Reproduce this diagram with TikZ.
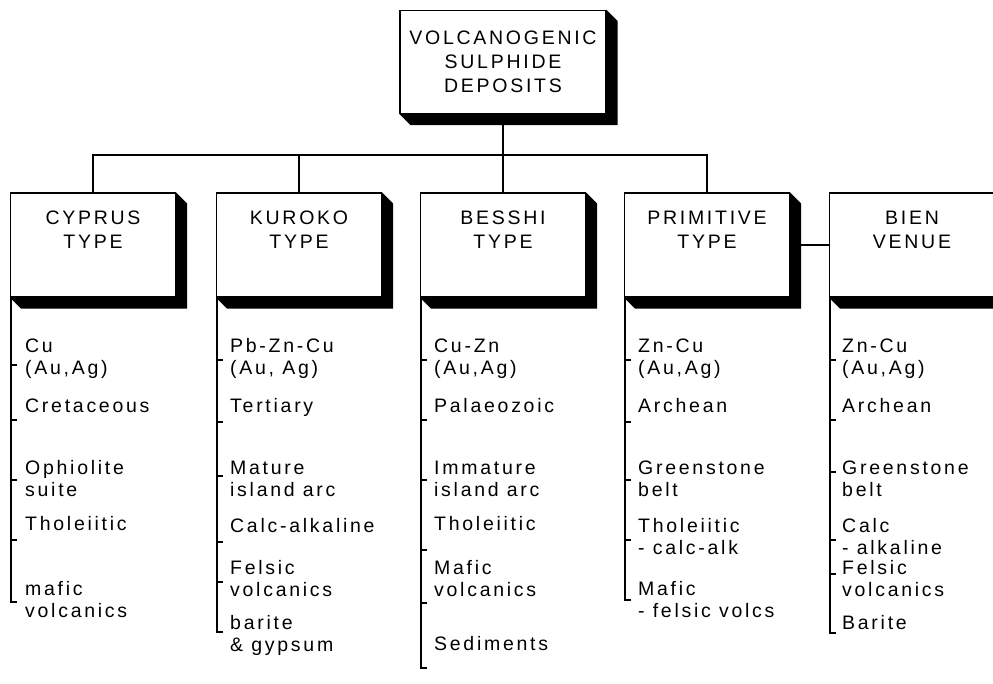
\documentclass[tikz,border=0pt]{standalone}
\usepackage{fontspec}
\newfontfamily\plainsans[LetterSpace=14]{Liberation Sans}

\tikzset{
  typebox/.style={draw, fill=white, line width=1.1pt, minimum width=165pt,
    minimum height=104pt, inner sep=0pt},
  boxtext/.style={anchor=north, align=center, inner sep=0pt, yshift=-18pt,
    font=\plainsans\fontsize{19.5}{24}\selectfont},
  entry/.style={anchor=base west, align=left, inner sep=0pt,
    font=\plainsans\fontsize{19.5}{22}\selectfont},
  link/.style={line width=1.1pt},
  bracket/.style={line width=1.1pt},
}

\begin{document}
\begin{tikzpicture}[x=1pt, y=-1pt]
  \useasboundingbox (0,0) rectangle (993,683);
  \clip (0,0) rectangle (993,683);

  % boxes
  \node[typebox, minimum width=206pt, minimum height=103pt, align=center,
    font=\plainsans\fontsize{19.5}{24}\selectfont] (top) at (503,62)
    {VOLCANOGENIC\\SULPHIDE\\DEPOSITS};
  \node[typebox, label={[boxtext]north:CYPRUS\\TYPE}] (cyprus) at (93,245) {};
  \node[typebox, label={[boxtext]north:KUROKO\\TYPE}] (kuroko) at (299,245) {};
  \node[typebox, label={[boxtext]north:BESSHI\\TYPE}] (besshi) at (503,245) {};
  \node[typebox, label={[boxtext]north:PRIMITIVE\\TYPE}] (primitive) at (707,245) {};
  \node[typebox, label={[boxtext]north:BIEN\\VENUE}] (bien) at (912,245) {};

  % connectors
  \coordinate (bus) at (503,155);
  \draw[link] (top.south) -- (besshi.north);
  \draw[link] (cyprus.north) |- (bus) -| (primitive.north);
  \draw[link] (kuroko.north) |- (bus);
  \draw[link] (primitive.east) -- (bien.west);

  % solid shadows
  \foreach \b in {top,cyprus,kuroko,besshi,primitive,bien}
    \fill (\b.north east) -- ++(11,11) |- ([xshift=11pt,yshift=-11pt]\b.south west)
      -- (\b.south west) -- (\b.south east) -- cycle;

  % brackets down the left side of each column
  \foreach \x/\ticks/\stop in {11/{365,420,480,540}/602,
      217/{360,422,476,542,582}/632,
      421/{360,420,480,550,603}/668,
      625/{360,422,480,540}/600,
      830/{360,420,472,540,574}/633} {
    \draw[bracket] (\x,297) |- (\x+6,\stop);
    \foreach \t in \ticks
      \draw[bracket] (\x,\t) -- (\x+6,\t);
  }

  % cyprus
  \node[entry] (cy1) at (25,374) {Cu\\(Au,Ag)};
  \node[entry] (cy2) at (25,412) {Cretaceous};
  \node[entry] (cy3) at (25,496) {Ophiolite\\suite};
  \node[entry] (cy4) at (25,530) {Tholeiitic};
  \node[entry] (cy5) at (25,617) {mafic\\volcanics};

  % kuroko
  \node[entry] (ku1) at (230,374) {Pb-Zn-Cu\\(Au, Ag)};
  \node[entry] (ku2) at (230,412) {Tertiary};
  \node[entry] (ku3) at (230,496) {Mature\\island arc};
  \node[entry] (ku4) at (230,532) {Calc-alkaline};
  \node[entry] (ku5) at (230,596) {Felsic\\volcanics};
  \node[entry] (ku6) at (230,651) {barite\\\& gypsum};

  % besshi
  \node[entry] (be1) at (434,374) {Cu-Zn\\(Au,Ag)};
  \node[entry] (be2) at (434,412) {Palaeozoic};
  \node[entry] (be3) at (434,496) {Immature\\island arc};
  \node[entry] (be4) at (434,530) {Tholeiitic};
  \node[entry] (be5) at (434,596) {Mafic\\volcanics};
  \node[entry] (be6) at (434,650) {Sediments};

  % primitive
  \node[entry] (pr1) at (638,374) {Zn-Cu\\(Au,Ag)};
  \node[entry] (pr2) at (638,412) {Archean};
  \node[entry] (pr3) at (638,496) {Greenstone\\belt};
  \node[entry] (pr4) at (638,554) {Tholeiitic\\- calc-alk};
  \node[entry] (pr5) at (638,617) {Mafic\\- felsic volcs};

  % bien venue
  \node[entry] (bv1) at (842,374) {Zn-Cu\\(Au,Ag)};
  \node[entry] (bv2) at (842,412) {Archean};
  \node[entry] (bv3) at (842,496) {Greenstone\\belt};
  \node[entry] (bv4) at (842,554) {Calc\\- alkaline};
  \node[entry] (bv5) at (842,596) {Felsic\\volcanics};
  \node[entry] (bv6) at (842,629) {Barite};
\end{tikzpicture}
\end{document}
